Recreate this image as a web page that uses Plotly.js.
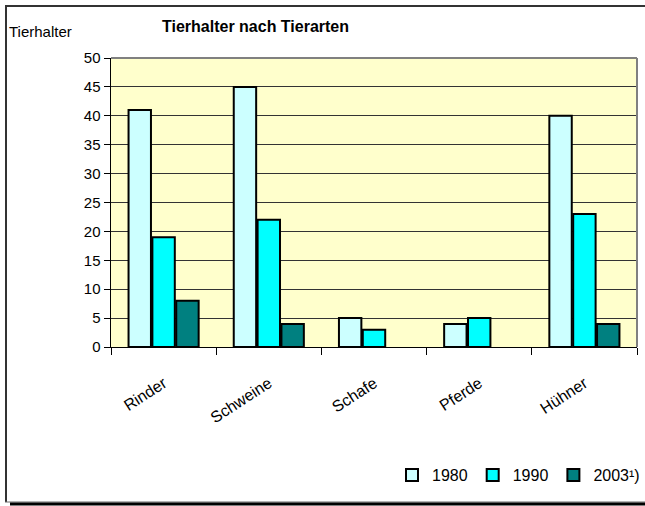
<!DOCTYPE html>
<html>
<head>
<meta charset="utf-8">
<script src="https://cdn.plot.ly/plotly-3.0.1.min.js"></script>
<style>html,body{margin:0;padding:0;background:#fff;overflow:hidden;}#chart{width:645px;height:506px;}</style>
</head>
<body>
<div id="chart"></div>
<script>
const categories = ["Rinder", "Schweine", "Schafe", "Pferde", "Hühner"];
const v1980 = [41, 45, 5, 4, 40];
const v1990 = [19, 22, 3, 5, 23];
const v2003 = [8, 4, null, null, 4];
const seriesNames = ["1980", "1990", "2003¹)"];
const yTicks = [0, 5, 10, 15, 20, 25, 30, 35, 40, 45, 50];

const W = 645, H = 506;
const M = {l: 111, r: 8, t: 58, b: 159};
const PW = W - M.l - M.r, PH = H - M.t - M.b;
const px = x => (x - M.l) / PW;
const py = y => (H - M.b - y) / PH;

const FONT = '"Liberation Sans", Arial, sans-serif';
const colors = ["#CCFFFF", "#00FFFF", "#008080"];
const vals = [v1980, v1990, v2003];

const data = vals.map((v, i) => ({
  type: 'bar', x: categories, y: v, name: seriesNames[i],
  marker: {color: colors[i], line: {color: '#000', width: 2}},
  hoverinfo: 'skip'
}));

const layout = {
  width: W, height: H,
  margin: M,
  paper_bgcolor: '#ffffff',
  plot_bgcolor: '#FFFFCC',
  barmode: 'group', bargap: 0.32, bargroupgap: 0.06,
  font: {family: FONT, size: 15, color: '#000'},
  showlegend: true,
  legend: {orientation: 'h', xref: 'container', yref: 'container', x: 1, xanchor: 'right',
           y: (H - 475) / H, yanchor: 'middle',
           font: {family: FONT, size: 16, color: '#000'}, bgcolor: 'rgba(0,0,0,0)',
           itemwidth: 30, tracegroupgap: 0, traceorder: 'normal'},
  xaxis: {
    type: 'category', range: [-0.5, 4.5], fixedrange: true,
    showline: true, linecolor: '#000', linewidth: 1,
    ticks: 'outside', tickson: 'boundaries', ticklen: 7, tickcolor: '#000', tickwidth: 1,
    tickangle: -33, ticklabelstandoff: 20,
    tickfont: {family: FONT, size: 16, color: '#000'},
    showgrid: false, zeroline: false
  },
  yaxis: {
    range: [0, 50], tickvals: yTicks, ticktext: yTicks.map(String), fixedrange: true,
    showline: true, linecolor: '#000', linewidth: 1.5,
    ticks: 'outside', ticklen: 6, tickcolor: '#000', tickwidth: 1,
    tickfont: {family: FONT, size: 15, color: '#000'},
    showgrid: true, gridcolor: '#333', gridwidth: 1, zeroline: false
  },
  annotations: [
    {xref: 'paper', yref: 'paper', x: px(255), y: py(27), xanchor: 'center', yanchor: 'middle',
     text: '<b>Tierhalter nach Tierarten</b>', showarrow: false,
     font: {family: FONT, size: 16, color: '#000'}},
    {xref: 'paper', yref: 'paper', x: px(7), y: py(32), xanchor: 'left', yanchor: 'middle',
     text: 'Tierhalter', showarrow: false,
     font: {family: FONT, size: 15, color: '#000'}}
  ],
  shapes: [
    {type: 'line', xref: 'paper', yref: 'paper', x0: 0, x1: 1, y0: 1, y1: 1,
     line: {color: '#808080', width: 2}, layer: 'above'},
    {type: 'line', xref: 'paper', yref: 'paper', x0: 1, x1: 1, y0: 0, y1: 1,
     line: {color: '#808080', width: 2}, layer: 'above'},
    {type: 'line', xref: 'paper', yref: 'paper', x0: px(6), x1: px(6), y0: py(5.5), y1: py(502),
     line: {color: '#333', width: 2}},
    {type: 'line', xref: 'paper', yref: 'paper', x0: px(5), x1: px(646), y0: py(6), y1: py(6),
     line: {color: '#333', width: 2}},
    {type: 'line', xref: 'paper', yref: 'paper', x0: px(5), x1: px(646), y0: py(502), y1: py(502),
     line: {color: '#666', width: 1}},
    {type: 'line', xref: 'paper', yref: 'paper', x0: px(10), x1: px(646), y0: py(504), y1: py(504),
     line: {color: '#000', width: 3}}
  ]
};

Plotly.newPlot('chart', data, layout, {displayModeBar: false, staticPlot: true});
</script>
</body>
</html>
